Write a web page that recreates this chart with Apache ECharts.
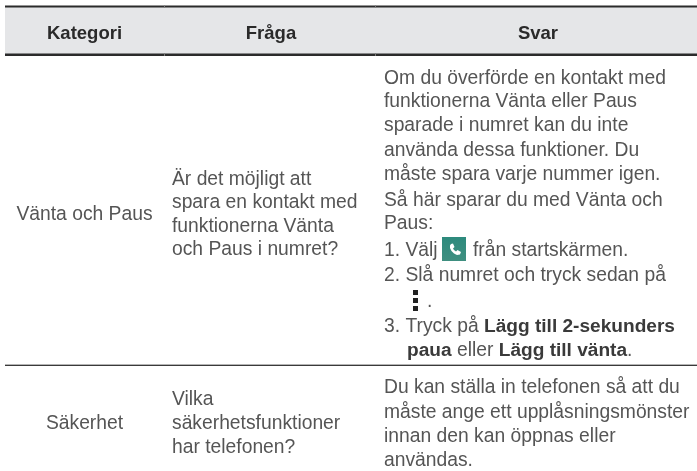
<!DOCTYPE html>
<html><head><meta charset="utf-8">
<style>html,body{margin:0;padding:0;background:#fff}#c{width:697px;height:471px}</style>
<script src="https://cdn.jsdelivr.net/npm/echarts@6/dist/echarts.min.js"></script></head>
<body><div id="c"></div>
<script>
const headers = ["Kategori", "Fråga", "Svar"];
const categories = ["Vänta och Paus", "Säkerhet"];
const questions = [
  ["Är det möjligt att", "spara en kontakt med", "funktionerna Vänta", "och Paus i numret?"],
  ["Vilka", "säkerhetsfunktioner", "har telefonen?"]
];
const answer1 = ["Om du överförde en kontakt med", "funktionerna Vänta eller Paus", "sparade i numret kan du inte", "använda dessa funktioner. Du", "måste spara varje nummer igen.", "Så här sparar du med Vänta och", "Paus:"];
const steps = ["1. Välj", "från startskärmen.", "2. Slå numret och tryck sedan på", ".", "3. Tryck på {b|Lägg till 2-sekunders}", "{b|paua} eller {b|Lägg till vänta}."];
const answer2 = ["Du kan ställa in telefonen så att du", "måste ange ett upplåsningsmönster", "innan den kan öppnas eller", "användas."];

const FONT = '"Liberation Sans", Arial, sans-serif';
const INK = '#555555';
const SIZE = 19.3;
const DY = 1.3;
const g = [];
const rule = (y, h, c) => g.push({type:'rect', shape:{x:5,y,width:692,height:h}, style:{fill:c}, silent:true});
const txt = (text, x, y, align) => g.push({type:'text', x, y:y+DY, style:{
  text, x:0, y:0, fill:INK, font:`${SIZE}px ${FONT}`, textAlign:align||'left', textVerticalAlign:'middle',
  rich:{b:{fontFamily:'Liberation Sans', fontWeight:'bold', fontSize:SIZE-0.2, fill:'#3a3a3a'}}
}});

g.push({type:'rect', shape:{x:5,y:7,width:692,height:47}, style:{fill:'#e5e6e8'}});
rule(5.5, 2, '#2b2b2b'); rule(53.5, 2.5, '#2b2b2b'); rule(364, 1, '#b5b5b5'); rule(365, 1, '#3a3a3a');
[164, 375].forEach(x => [[5.5,2],[53.5,2.5]].forEach(([y,h]) => g.push({type:'rect', shape:{x,y,width:1,height:h}, style:{fill:'#777'}})));
[84.5, 271, 538].forEach((x,i) => g.push({type:'text', x, y:33+DY, style:{text:headers[i], x:0, y:0, fill:'#2a2a2a', font:`bold 18.5px ${FONT}`, textAlign:'center', textVerticalAlign:'middle'}}));

txt(categories[0], 84.5, 213, 'center');
txt(categories[1], 84.5, 422, 'center');
questions[0].forEach((s,i) => txt(s, 172, 178 + i*23.6));
questions[1].forEach((s,i) => txt(s, 172, 398 + i*24));
answer1.forEach((s,i) => txt(s, 384, [77,100,124,149,173,199,222][i]));

txt(steps[0], 384, 249);
txt(steps[1], 473, 249);
txt(steps[2], 384, 274);
txt(steps[3], 427, 300);
txt(steps[4], 384, 325);
txt(steps[5], 407, 349);

// phone icon
g.push({type:'rect', shape:{x:442,y:237,width:24,height:24}, style:{fill:{type:'linear',x:0,y:0,x2:0,y2:1,colorStops:[{offset:0,color:'#2d8a7d'},{offset:1,color:'#3f8f80'}]}}});
g.push({type:'polygon', shape:{points:[[451,244],[453,243.5],[454.5,247],[453,248.5],[454,250],[456,251.5],[457.5,250],[461,252],[460,254.5],[457,255],[454,253.5],[451.5,251],[450,248],[450,245.5]]}, style:{fill:'#fff'}});
// overflow (three dot) icon
[290, 298, 306].forEach(y => g.push({type:'rect', shape:{x:413,y,width:5,height:5}, style:{fill:'#222'}}));

answer2.forEach((s,i) => txt(s, 384, [386,411,435,459][i]));

echarts.init(document.getElementById('c'), null, {renderer:'canvas'}).setOption({animation:false, backgroundColor:'#fff', graphic:{elements:g}});
</script></body></html>
